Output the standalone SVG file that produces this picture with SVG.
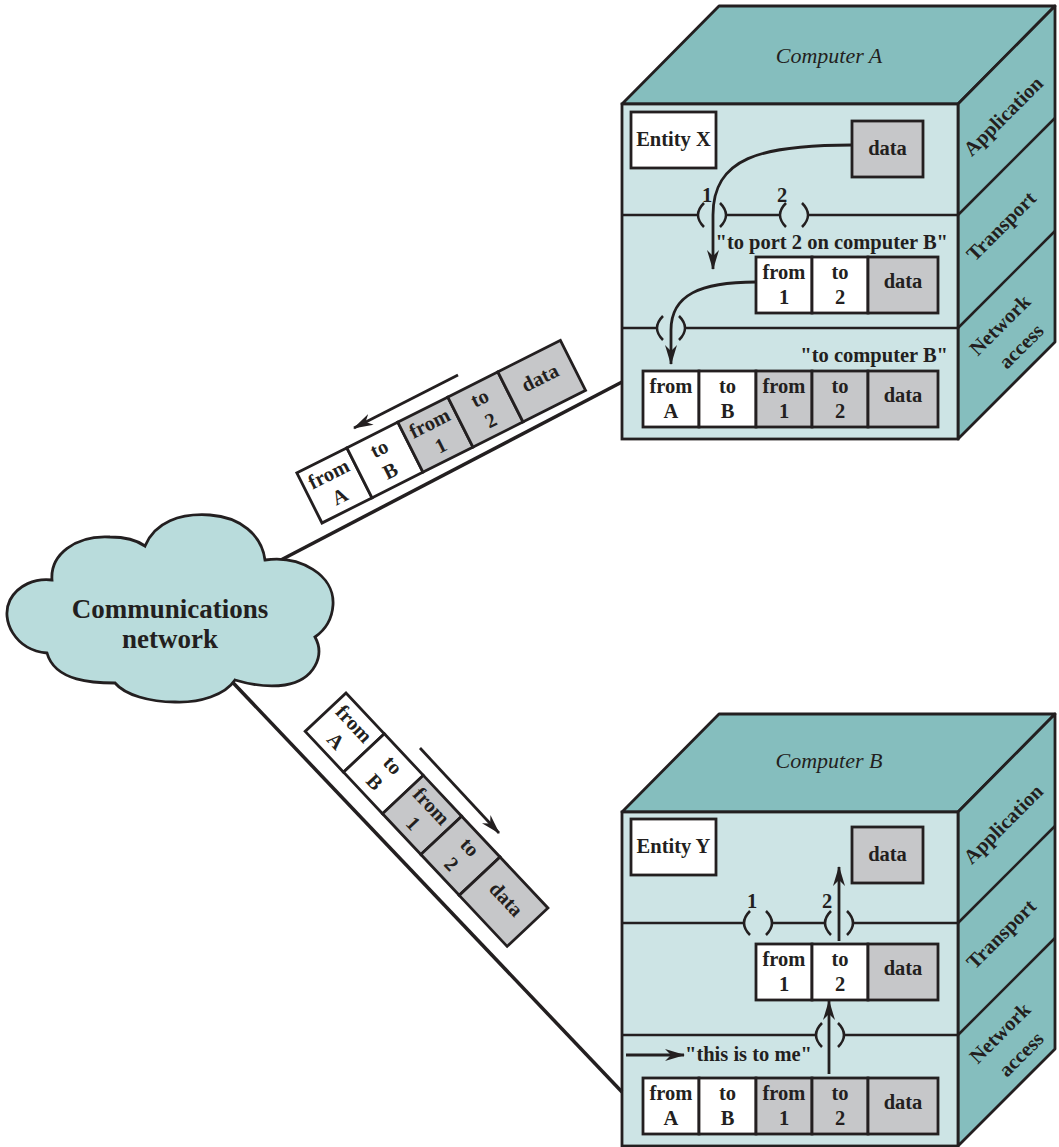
<svg xmlns="http://www.w3.org/2000/svg" width="1059" height="1147" viewBox="0 0 1059 1147">
<defs>
<style>
.face-top{fill:#85bebe;stroke:#231f20;stroke-width:2.8;stroke-linejoin:round}
.face-front{fill:#cde4e5;stroke:#231f20;stroke-width:2.8}
.ln{stroke:#231f20;stroke-width:2.5;fill:none}
.wire{stroke:#231f20;stroke-width:3.5;fill:none}
.arr{stroke:#231f20;stroke-width:2.8;fill:none;marker-end:url(#ah)}
.w{fill:#ffffff;stroke:#231f20;stroke-width:2.8}
.g{fill:#c6c7c9;stroke:#231f20;stroke-width:2.8}
.t{font-family:"Liberation Serif","Times New Roman",serif;font-weight:bold;font-size:20.5px;fill:#231f20;text-anchor:middle}
.te{font-family:"Liberation Serif","Times New Roman",serif;font-weight:bold;font-size:20.5px;fill:#231f20;text-anchor:end}
.ts{font-family:"Liberation Serif","Times New Roman",serif;font-weight:bold;font-size:20.5px;fill:#231f20;text-anchor:start}
.title{font-family:"Liberation Serif","Times New Roman",serif;font-style:italic;font-size:22px;fill:#231f20;text-anchor:middle}
.cloudt{font-family:"Liberation Serif","Times New Roman",serif;font-weight:bold;font-size:27px;fill:#231f20;text-anchor:middle}
</style>
<marker id="ah" viewBox="0 0 20 12" markerWidth="20" markerHeight="12" refX="19" refY="6" orient="auto" markerUnits="userSpaceOnUse">
<path d="M0,0 L20,6 L0,12 L6,6 Z" fill="#231f20"/>
</marker>
</defs>
<rect width="1059" height="1147" fill="#ffffff"/>

<!-- Computer A -->
<g id="computer-a">
<polygon class="face-top" points="622,104 719,6 1055,6 958,104"/>
<polygon class="face-top" points="958,104 1055,6 1055,342 958,439"/>
<rect class="face-front" x="622" y="104" width="336" height="335"/>
<line class="ln" x1="958" y1="215" x2="1055" y2="118"/>
<line class="ln" x1="958" y1="328" x2="1055" y2="231"/>
<path class="ln" d="M622,215 H698 M726,215 H780 M808,215 H958"/>
<path class="ln" d="M704,203 Q692,215 704,227 M720,203 Q732,215 720,227"/>
<path class="ln" d="M786,203 Q774,215 786,227 M802,203 Q814,215 802,227"/>
<path class="ln" d="M622,328 H657 M685,328 H958"/>
<path class="ln" d="M663,316 Q651,328 663,340 M679,316 Q691,328 679,340"/>
<text class="t" x="707" y="202">1</text>
<text class="t" x="782" y="202">2</text>
<text class="title" x="829" y="63">Computer A</text>
<text class="t" transform="translate(1008,121) rotate(-45)">Application</text>
<text class="t" transform="translate(1006,231) rotate(-45)">Transport</text>
<g transform="translate(1014,339) rotate(-45)">
<text class="t" x="0" y="-13">Network</text>
<text class="t" x="0" y="17">access</text>
</g>
<rect class="w" x="631" y="112" width="85" height="56"/>
<text class="t" x="673.5" y="146">Entity X</text>
<rect class="g" x="852" y="121" width="71" height="56"/>
<text class="t" x="887.5" y="155">data</text>
<text class="te" x="948" y="249">"to port 2 on computer B"</text>
<rect class="w" x="756" y="257" width="56" height="56"/>
<rect class="w" x="812" y="257" width="56" height="56"/>
<rect class="g" x="868" y="257" width="70" height="56"/>
<text class="t" x="784" y="279">from</text><text class="t" x="784" y="304">1</text>
<text class="t" x="840" y="279">to</text><text class="t" x="840" y="304">2</text>
<text class="t" x="903" y="288">data</text>
<text class="te" x="948" y="362">"to computer B"</text>
<rect class="w" x="643" y="371" width="56" height="56"/>
<rect class="w" x="699" y="371" width="57" height="56"/>
<rect class="g" x="756" y="371" width="56" height="56"/>
<rect class="g" x="812" y="371" width="56" height="56"/>
<rect class="g" x="868" y="371" width="70" height="56"/>
<text class="t" x="671" y="393">from</text><text class="t" x="671" y="418">A</text>
<text class="t" x="727.5" y="393">to</text><text class="t" x="727.5" y="418">B</text>
<text class="t" x="784" y="393">from</text><text class="t" x="784" y="418">1</text>
<text class="t" x="840" y="393">to</text><text class="t" x="840" y="418">2</text>
<text class="t" x="903" y="402">data</text>
</g>

<!-- Computer B -->
<g id="computer-b">
<polygon class="face-top" points="622,812 719,714 1055,714 958,812"/>
<polygon class="face-top" points="958,812 1055,714 1055,1049 958,1146"/>
<rect class="face-front" x="622" y="812" width="336" height="334"/>
<line class="ln" x1="958" y1="923" x2="1055" y2="826"/>
<line class="ln" x1="958" y1="1035" x2="1055" y2="938"/>
<path class="ln" d="M622,923 H744 M772,923 H825 M853,923 H958"/>
<path class="ln" d="M750,911 Q738,923 750,935 M766,911 Q778,923 766,935"/>
<path class="ln" d="M831,911 Q819,923 831,935 M847,911 Q859,923 847,935"/>
<path class="ln" d="M622,1035 H816 M844,1035 H958"/>
<path class="ln" d="M822,1023 Q810,1035 822,1047 M838,1023 Q850,1035 838,1047"/>
<text class="t" x="752" y="908">1</text>
<text class="t" x="827" y="908">2</text>
<text class="title" x="829" y="768">Computer B</text>
<text class="t" transform="translate(1008,829) rotate(-45)">Application</text>
<text class="t" transform="translate(1006,939) rotate(-45)">Transport</text>
<g transform="translate(1014,1047) rotate(-45)">
<text class="t" x="0" y="-13">Network</text>
<text class="t" x="0" y="17">access</text>
</g>
<rect class="w" x="631" y="819" width="85" height="56"/>
<text class="t" x="673.5" y="853">Entity Y</text>
<rect class="g" x="852" y="827" width="71" height="56"/>
<text class="t" x="887.5" y="861">data</text>
<rect class="w" x="756" y="944" width="56" height="56"/>
<rect class="w" x="812" y="944" width="56" height="56"/>
<rect class="g" x="868" y="944" width="70" height="56"/>
<text class="t" x="784" y="966">from</text><text class="t" x="784" y="991">1</text>
<text class="t" x="840" y="966">to</text><text class="t" x="840" y="991">2</text>
<text class="t" x="903" y="975">data</text>
<text class="ts" x="685" y="1061">"this is to me"</text>
<rect class="w" x="643" y="1078" width="56" height="56"/>
<rect class="w" x="699" y="1078" width="57" height="56"/>
<rect class="g" x="756" y="1078" width="56" height="56"/>
<rect class="g" x="812" y="1078" width="56" height="56"/>
<rect class="g" x="868" y="1078" width="70" height="56"/>
<text class="t" x="671" y="1100">from</text><text class="t" x="671" y="1125">A</text>
<text class="t" x="727.5" y="1100">to</text><text class="t" x="727.5" y="1125">B</text>
<text class="t" x="784" y="1100">from</text><text class="t" x="784" y="1125">1</text>
<text class="t" x="840" y="1100">to</text><text class="t" x="840" y="1125">2</text>
<text class="t" x="903" y="1109">data</text>
</g>

<!-- Connectors -->
<g id="connectors">
<line class="wire" x1="255" y1="573.5" x2="622" y2="382"/>
<line class="wire" x1="220" y1="669" x2="622" y2="1092"/>
<path class="arr" d="M852,145 C760,145 713,158 713,215 L713,269"/>
<path class="arr" d="M756,282 C700,282 671,295 671,330 L671,364"/>
<line class="arr" x1="839" y1="941" x2="839" y2="867"/>
<line class="arr" x1="829" y1="1074" x2="829" y2="1001"/>
<line class="arr" x1="626" y1="1055" x2="684" y2="1055"/>
<line class="arr" x1="458" y1="375" x2="354" y2="428"/>
<line class="arr" x1="420" y1="748" x2="499" y2="833"/>
</g>

<!-- Cloud -->
<g id="cloud">
<path d="M47,653 C15,650 0,620 10,600 C18,585 35,578 52,580 C50,555 75,535 110,537 C125,537 138,541 145,546 C155,522 180,513 210,515 C240,517 262,535 265,560 C300,555 335,575 333,605 C332,620 325,630 315,637 C325,655 315,680 285,685 C265,688 245,683 235,680 C225,695 200,703 175,702 C150,702 125,695 115,683 C95,683 55,682 47,653 Z" fill="#b9dcdc" stroke="#231f20" stroke-width="2.8"/>
<text class="cloudt" x="170" y="618">Communications</text>
<text class="cloudt" x="170" y="648">network</text>
</g>

<!-- Packet in transit A to network -->
<g id="packet-up" transform="translate(322,523) rotate(-26.7)">
<rect class="w" x="0" y="-56" width="56" height="56"/>
<rect class="w" x="56" y="-56" width="57" height="56"/>
<rect class="g" x="113" y="-56" width="56" height="56"/>
<rect class="g" x="169" y="-56" width="56" height="56"/>
<rect class="g" x="225" y="-56" width="70" height="56"/>
<text class="t" x="28" y="-34">from</text><text class="t" x="28" y="-9">A</text>
<text class="t" x="84.5" y="-34">to</text><text class="t" x="84.5" y="-9">B</text>
<text class="t" x="141" y="-34">from</text><text class="t" x="141" y="-9">1</text>
<text class="t" x="197" y="-34">to</text><text class="t" x="197" y="-9">2</text>
<text class="t" x="260" y="-25">data</text>
</g>

<!-- Packet in transit network to B -->
<g id="packet-down" transform="translate(346,693) rotate(46.8)">
<rect class="w" x="0" y="0" width="56" height="56"/>
<rect class="w" x="56" y="0" width="57" height="56"/>
<rect class="g" x="113" y="0" width="56" height="56"/>
<rect class="g" x="169" y="0" width="56" height="56"/>
<rect class="g" x="225" y="0" width="70" height="56"/>
<text class="t" x="28" y="22">from</text><text class="t" x="28" y="47">A</text>
<text class="t" x="84.5" y="22">to</text><text class="t" x="84.5" y="47">B</text>
<text class="t" x="141" y="22">from</text><text class="t" x="141" y="47">1</text>
<text class="t" x="197" y="22">to</text><text class="t" x="197" y="47">2</text>
<text class="t" x="260" y="31">data</text>
</g>
</svg>
